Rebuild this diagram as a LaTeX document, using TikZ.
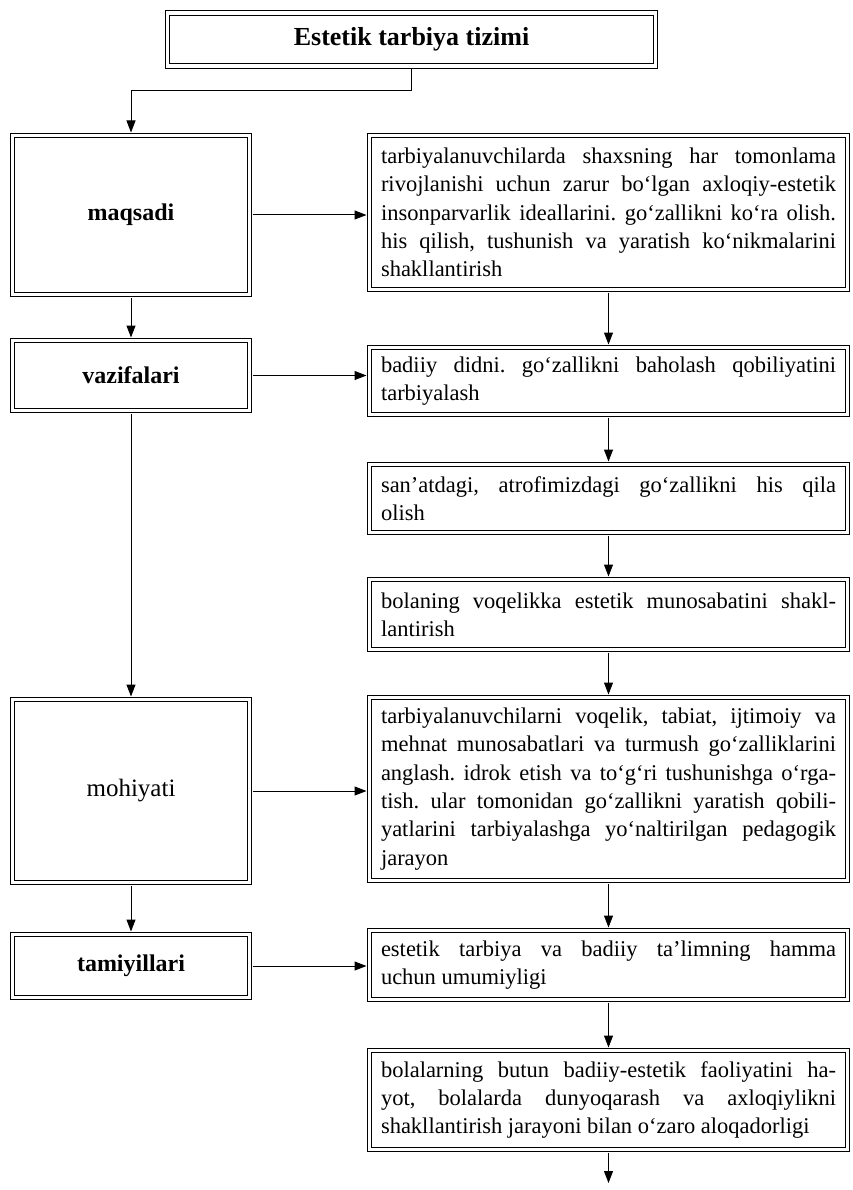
\documentclass[tikz,border=0pt]{standalone}
\usepackage{fontspec}
\setmainfont{Liberation Serif}
\usetikzlibrary{arrows.meta}
\frenchspacing

\tikzset{
    dbox/.style={draw, double, double distance=3.5pt, line width=0.9pt, outer sep=3pt},
    titlebox/.style={dbox, minimum width=488pt, minimum height=53pt, font=\fontsize{26}{30}\selectfont\bfseries},
    lbox/.style={dbox, minimum width=237pt, font=\fontsize{24}{28}\selectfont\bfseries},
    rbox/.style={dbox, text width=455pt, inner xsep=11.5pt, inner ysep=3pt, align=justify, font=\fontsize{22.5}{28.3}\selectfont}
}

\begin{document}
\begin{tikzpicture}[x=1pt, y=-1pt, >={Triangle[length=12pt,width=9pt]}, line width=1pt]
            \useasboundingbox (0,0) rectangle (852,1190);

            \node[titlebox] (title) at (411.5,39.5) {Estetik tarbiya tizimi};

            \begin{scope}[every node/.style={lbox}]
                \node[minimum height=159pt] (maqsadi) at (131,215) {maqsadi};
                \node[minimum height=70pt] (vazifalari) at (131,375.5) {vazifalari};
                \node[minimum height=183pt, font=\fontsize{25}{28}\selectfont] (mohiyati) at (131,791) {mohiyati};
                \node[minimum height=63pt] (tamoyillari) at (131,966) {tamiyillari};
            \end{scope}

            \begin{scope}[every node/.style={rbox}]
                \node[minimum height=154pt] (b1) at (608.5,212.5) {tarbiyalanuvchilarda shaxsning har tomonlama\linebreak
                    rivojlanishi uchun zarur bo`lgan axloqiy-estetik\linebreak
                    insonparvarlik ideallarini. go`zallikni ko`ra olish.\linebreak
                    his qilish, tushunish va yaratish ko`nikmalarini\linebreak
                    shakllantirish};
                \node[minimum height=67pt] (b2) at (608.5,381) {badiiy didni. go`zallikni baholash qobiliyatini\linebreak
                    tarbiyalash};
                \node[minimum height=68pt] (b3) at (608.5,498.5) {san'atdagi, atrofimizdagi go`zallikni his qila\linebreak
                    olish};
                \node[minimum height=70pt] (b4) at (608.5,614.5) {bolaning voqelikka estetik munosabatini shakl-\linebreak
                    lantirish};
                \node[minimum height=183pt] (b5) at (608.5,789) {tarbiyalanuvchilarni voqelik, tabiat, ijtimoiy va\linebreak
                    mehnat munosabatlari va turmush go`zalliklarini\linebreak
                    anglash. idrok etish va to`g`ri tushunishga o`rga-\linebreak
                    tish. ular tomonidan go`zallikni yaratish qobili-\linebreak
                    yatlarini tarbiyalashga yo`naltirilgan pedagogik\linebreak
                    jarayon};
                \node[minimum height=69pt] (b6) at (608.5,965) {estetik tarbiya va badiiy ta'limning hamma\linebreak
                    uchun umumiyligi};
                \node[minimum height=99pt] (b7) at (608.5,1100) {bolalarning butun badiiy-estetik faoliyatini ha-\linebreak
                    yot, bolalarda dunyoqarash va axloqiylikni\linebreak
                    shakllantirish jarayoni bilan o`zaro aloqadorligi};
            \end{scope}

            \coordinate (end) at (608.5,1183);

            \begin{scope}
                \draw [->] (title.south) -- ++(0,22) -| (maqsadi.north);
                \path [->] (maqsadi) edge (vazifalari);
                \path [->] (vazifalari) edge (mohiyati);
                \path [->] (mohiyati) edge (tamoyillari);
                \path [->] (maqsadi.east) edge (maqsadi.east -| b1.west);
                \path [->] (vazifalari.east) edge (vazifalari.east -| b2.west);
                \path [->] (mohiyati.east) edge (mohiyati.east -| b5.west);
                \path [->] (tamoyillari.east) edge (tamoyillari.east -| b6.west);
                \path [->] (b1) edge (b2);
                \path [->] (b2) edge (b3);
                \path [->] (b3) edge (b4);
                \path [->] (b4) edge (b5);
                \path [->] (b5) edge (b6);
                \path [->] (b6) edge (b7);
                \path [->] (b7) edge (end);
            \end{scope}
\end{tikzpicture}
\end{document}
